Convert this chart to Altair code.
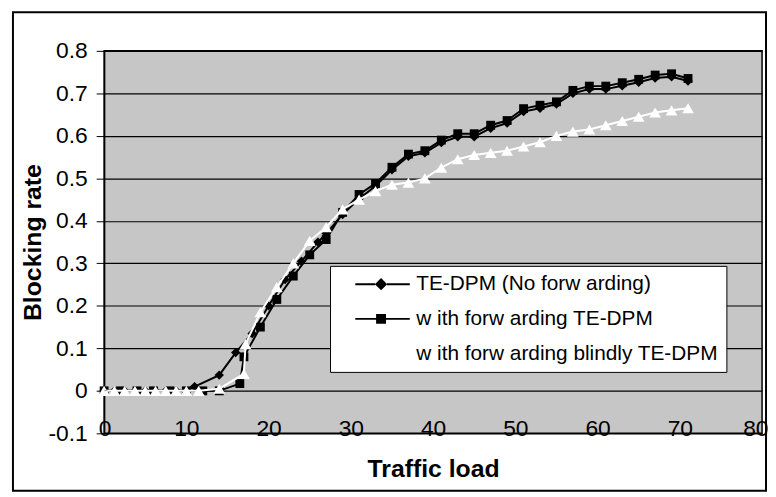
import altair as alt
import pandas as pd

# ---- data ----
series_names = ["TE-DPM (No forw arding)", " w ith forw arding TE-DPM", "w ith forw arding blindly TE-DPM"]

load_a = [0, 1.25, 2.5, 3.75, 5, 6.25, 7.5, 8.75, 10, 11, 14, 16, 18, 20, 22, 24, 26, 27, 29,
          31, 33, 35, 37, 39, 41, 43, 45, 47, 49, 51, 53, 55, 57, 59, 61, 63, 65, 67, 69, 71]
rate_a = [0, 0, 0, 0, 0, 0, 0, 0, 0, 0.01, 0.037, 0.09, 0.135, 0.2, 0.262, 0.305, 0.35, 0.37, 0.415,
          0.452, 0.482, 0.52, 0.552, 0.56, 0.584, 0.598, 0.598, 0.618, 0.63, 0.657, 0.665, 0.675,
          0.7, 0.71, 0.71, 0.718, 0.726, 0.736, 0.739, 0.729]

load_b = [0, 2, 4, 6, 8, 10, 12, 14, 16.5, 17, 19, 21, 23, 25, 27, 29,
          31, 33, 35, 37, 39, 41, 43, 45, 47, 49, 51, 53, 55, 57, 59, 61, 63, 65, 67, 69, 71]
rate_b = [0, 0, 0, 0, 0, 0, 0, 0, 0.017, 0.08, 0.15, 0.215, 0.27, 0.32, 0.356, 0.42,
          0.462, 0.488, 0.526, 0.557, 0.565, 0.59, 0.605, 0.605, 0.625, 0.636, 0.664, 0.672, 0.68,
          0.707, 0.717, 0.717, 0.725, 0.733, 0.743, 0.746, 0.735]

load_c = [0, 1.25, 2.5, 3.75, 5, 6.25, 7.5, 8.75, 10, 11.5, 14, 17, 17.2, 19, 21, 23, 25, 27, 29,
          31, 33, 35, 37, 39, 41, 43, 45, 47, 49, 51, 53, 55, 57, 59, 61, 63, 65, 67, 69, 71]
rate_c = [0, 0, 0, 0, 0, 0, 0, 0, 0, 0, 0.005, 0.04, 0.11, 0.185, 0.244, 0.30, 0.353, 0.385, 0.427,
          0.45, 0.47, 0.485, 0.49, 0.5, 0.525, 0.545, 0.555, 0.56, 0.565, 0.575, 0.585, 0.6, 0.61,
          0.615, 0.625, 0.635, 0.645, 0.655, 0.66, 0.665]

y_ticks = [-0.1, 0, 0.1, 0.2, 0.3, 0.4, 0.5, 0.6, 0.7, 0.8]
x_ticks = [0, 10, 20, 30, 40, 50, 60, 70, 80]

FONT = "Liberation Sans"
TICK_FS = 23
TITLE_FS = 25

df = pd.concat([
    pd.DataFrame({"load": load_a, "rate": rate_a, "series": series_names[0]}),
    pd.DataFrame({"load": load_b, "rate": rate_b, "series": series_names[1]}),
    pd.DataFrame({"load": load_c, "rate": rate_c, "series": series_names[2]}),
])

xs = alt.Scale(domain=[0, 80], nice=False, zero=False)
ys = alt.Scale(domain=[-0.1, 0.8], nice=False, zero=False)

X = alt.X("load:Q", scale=xs, title="Traffic load",
          axis=alt.Axis(values=x_ticks, format="d", grid=False, tickSize=0, domain=False,
                        labelFlush=1, labelFlushOffset=6,
                        labelFontSize=TICK_FS, labelFont=FONT, labelColor="black", labelPadding=-5,
                        labelBaseline="middle",
                        titleFont=FONT, titleFontSize=TITLE_FS, titleFontWeight="bold", titleColor="black",
                        titlePadding=17))
Y = alt.Y("rate:Q", scale=ys, title="Blocking rate",
          axis=alt.Axis(values=y_ticks, grid=True, gridColor="black", gridWidth=1.2,
                        labelExpr="datum.value < 0 ? '-' + format(-datum.value, '~g') : format(datum.value, '~g')",
                        tickSize=8, tickColor="black", domainColor="black", domainWidth=1.5,
                        labelFontSize=TICK_FS, labelFont=FONT, labelColor="black", labelPadding=9,
                        titleFont=FONT, titleFontSize=TITLE_FS, titleFontWeight="bold", titleColor="black",
                        titlePadding=3))

colors = ["black", "black", "white"]
shapes = ["diamond", "square", "triangle-up"]
sizes = [90, 80, 140]

layers = []
for i, name in enumerate(series_names):
    sub = df[df["series"] == name]
    base = alt.Chart(sub)
    line = base.mark_line(color=colors[i], strokeWidth=2, clip=False).encode(x=X, y=Y, order="load:Q")
    pts = base.mark_point(filled=True, color=colors[i], shape=shapes[i], size=sizes[i], opacity=1,
                          clip=False).encode(x=X, y=Y)
    layers += [line, pts]

# legend layer (custom symbols: line with the marker in the middle, offset to the right)
path_a = ("M0.7,-0.1H2.7V0.1H0.7Z M3.9,-0.1H6.2V0.1H3.9Z "
          "M3.3,-0.62L3.92,0L3.3,0.62L2.68,0Z")
path_b = ("M0.7,-0.1H2.8V0.1H0.7Z M3.8,-0.1H6.2V0.1H3.8Z "
          "M2.8,-0.5H3.8V0.5H2.8Z")
path_c = ("M0.7,-0.1H2.7V0.1H0.7Z M3.9,-0.1H6.2V0.1H3.9Z "
          "M3.3,-0.6L3.9,0.5L2.7,0.5Z")

legend_df = pd.DataFrame({"legend": series_names, "load": [0, 0, 0], "rate": [0, 0, 0]})
legend_layer = alt.Chart(legend_df).mark_point(filled=True, opacity=1, size=1).encode(
    x=X, y=Y,
    shape=alt.Shape("legend:N", scale=alt.Scale(domain=series_names, range=[path_a, path_b, path_c]),
                    legend=alt.Legend(title=None, orient="none", legendX=228, legendY=217,
                                      fillColor="white", strokeColor="black", padding=8,
                                      symbolSize=400, symbolStrokeWidth=0, labelOffset=58,
                                      rowPadding=13, labelFont=FONT, labelFontSize=21,
                                      labelColor="black", labelLimit=500, symbolOpacity=1)),
    color=alt.Color("legend:N", scale=alt.Scale(domain=series_names, range=colors)),
)

frame = alt.Chart(pd.DataFrame({"k": [0]})).mark_rect(
    fill="transparent", stroke="black", strokeWidth=2, clip=False
).encode(x=alt.value(-92), x2=alt.value(668), y=alt.value(-39), y2=alt.value(444))

chart = alt.layer(*layers, legend_layer, frame).properties(
    width=664, height=386,
    autosize=alt.AutoSizeParams(type="none"),
    padding={"left": 97, "top": 41, "right": 6, "bottom": 61},
    background="white",
).configure_view(fill="#c6c6c6", stroke="black", strokeWidth=1.5)

chart.save("out.html", embed_options={"renderer": "svg", "actions": False})
